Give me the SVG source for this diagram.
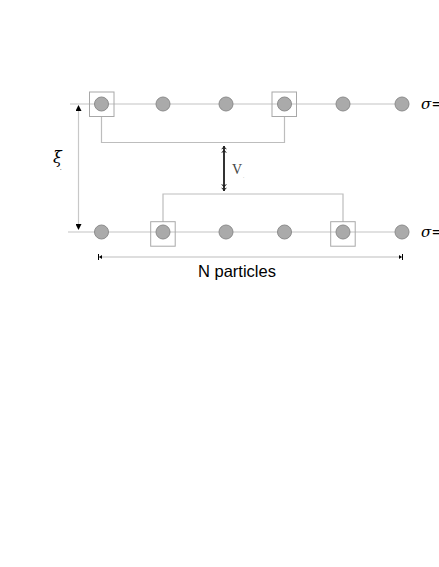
<svg xmlns="http://www.w3.org/2000/svg" width="439" height="567" viewBox="0 0 439 567">
<style>
.chain{stroke:#c4c4c4;stroke-width:1.2;fill:none}
.br{stroke:#bdbdbd;stroke-width:1.2;fill:none}
.p{fill:#aaaaaa;stroke:#8c8c8c;stroke-width:1}
.box{fill:none;stroke:#a8a8a8;stroke-width:1}
.serif{font-family:"Liberation Serif",serif}
.greek{font-family:"DejaVu Serif",serif;font-style:italic}
.sans{font-family:"Liberation Sans",sans-serif}
</style>
<defs>
<marker id="ah" viewBox="0 0 6 6" refX="5" refY="3" markerWidth="5" markerHeight="5" orient="auto-start-reverse"><path d="M0,0 L6,3 L0,6 z" fill="#000"/></marker>
<marker id="ad" viewBox="0 0 8 8" refX="8" refY="4" markerUnits="userSpaceOnUse" markerWidth="8" markerHeight="7" orient="auto-start-reverse"><path d="M0,0.5 L4,4 L0,7.5 L1.5,4 z M4,0.5 L8,4 L4,7.5 L5.5,4 z" fill="#222"/></marker>
<marker id="bar" viewBox="0 0 4 6" refX="3" refY="3" markerWidth="4" markerHeight="6" orient="auto-start-reverse"><path d="M0,1 L3,3 L0,5 z M3,0 L4,0 L4,6 L3,6 z" fill="#000"/></marker>
</defs>
<rect width="439" height="567" fill="#fff"/>
<g id="connectors">
<line class="chain" x1="70" y1="104" x2="396" y2="104"/>
<line class="chain" x1="68" y1="232" x2="396" y2="232"/>
<path class="br" d="M101.5,116 V142.5 H284.5 V116"/>
<path class="br" d="M163,222 V194 H343 V222"/>
<line x1="78.5" y1="229" x2="78.5" y2="106" stroke="#c8c8c8" stroke-width="1.2" marker-start="url(#ah)" marker-end="url(#ah)"/>
<line x1="224" y1="146" x2="224" y2="191" stroke="#333" stroke-width="2" marker-start="url(#ad)" marker-end="url(#ad)"/>
<line x1="99" y1="257" x2="402" y2="257" stroke="#bdbdbd" stroke-width="1" marker-start="url(#bar)" marker-end="url(#bar)"/>
</g>
<g id="top-row">
<rect class="box" x="89.5" y="92" width="24.5" height="24.5"/>
<rect class="box" x="272" y="92" width="24.5" height="24.5"/>
<circle class="p" cx="101.5" cy="104" r="7"/>
<circle class="p" cx="163" cy="104" r="7"/>
<circle class="p" cx="226" cy="104" r="7"/>
<circle class="p" cx="284.5" cy="104" r="7"/>
<circle class="p" cx="343" cy="104" r="7"/>
<circle class="p" cx="402" cy="104" r="7"/>
</g>
<g id="bottom-row">
<rect class="box" x="150.7" y="221.7" width="24.5" height="24.5"/>
<rect class="box" x="330.7" y="221.7" width="24.5" height="24.5"/>
<circle class="p" cx="101.5" cy="232" r="7"/>
<circle class="p" cx="163" cy="232" r="7"/>
<circle class="p" cx="226" cy="232" r="7"/>
<circle class="p" cx="284.5" cy="232" r="7"/>
<circle class="p" cx="343" cy="232" r="7"/>
<circle class="p" cx="402" cy="232" r="7"/>
</g>
<g id="labels">
<text class="greek" x="53" y="163" font-size="16">ξ</text>
<text class="serif" x="60" y="170" font-size="6">.</text>
<text class="serif" x="232" y="174" font-size="14" fill="#444">V</text>
<text class="serif" x="243" y="178" font-size="5" fill="#888">.</text>
<text class="greek" x="421" y="109" font-size="15">σ=</text>
<text class="greek" x="421" y="237" font-size="15">σ=</text>
<text class="sans" x="237" y="277" font-size="16.5" text-anchor="middle">N particles</text>
</g>
</svg>
